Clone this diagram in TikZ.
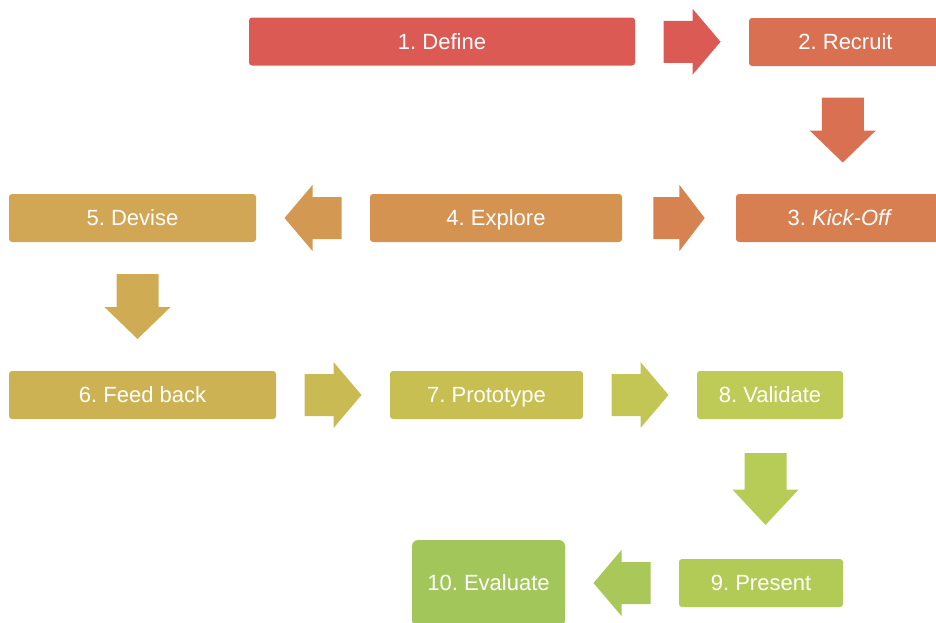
\documentclass[tikz,border=0pt]{standalone}
\usepackage{fontspec}
\setmainfont{Liberation Sans}
\usepackage{tikz}
\usetikzlibrary{calc}
\frenchspacing

\definecolor{cDefine}{HTML}{DC5A54}
\definecolor{cRecruit}{HTML}{D97052}
\definecolor{cKickoff}{HTML}{D77F51}
\definecolor{cExplore}{HTML}{D49351}
\definecolor{cDevise}{HTML}{D1A654}
\definecolor{cFeedback}{HTML}{CDB254}
\definecolor{cPrototype}{HTML}{C8BF53}
\definecolor{cValidate}{HTML}{BECB56}
\definecolor{cPresent}{HTML}{B2CB57}
\definecolor{cEvaluate}{HTML}{A3C65B}

\tikzset{
  step box/.style={rounded corners=3pt, text=white, minimum height=48pt,
    font=\fontsize{22}{26}\selectfont, inner sep=0pt,
    text height=15.8pt, text depth=0pt},
  pics/blockarrow/.style={code={
    \fill[pic actions] (-28.5,-21) -- (0.5,-21) -- (0.5,-33) -- (28.5,0)
      -- (0.5,33) -- (0.5,21) -- (-28.5,21) -- cycle;
  }}
}

\begin{document}
\begin{tikzpicture}[x=1pt, y=-1pt]
\useasboundingbox (0,0) rectangle (936,622);

% Schritte
\node[step box, fill=cDefine, minimum width=386pt] (define) at (442,41.5) {1. Define};
\node[step box, fill=cRecruit, minimum width=193pt] (recruit) at (845.5,42) {2. Recruit};
\node[step box, fill=cKickoff, minimum width=208pt] (kickoff) at (840,218) {3. \textit{Kick-Off}};
\node[step box, fill=cExplore, minimum width=252pt] (explore) at (496,218) {4. Explore};
\node[step box, fill=cDevise, minimum width=247pt] (devise) at (132.5,218) {5. Devise};
\node[step box, fill=cFeedback, minimum width=267pt] (feedback) at (142.5,395) {6. Feed back};
\node[step box, fill=cPrototype, minimum width=193pt] (prototype) at (486.5,395) {7. Prototype};
\node[step box, fill=cValidate, minimum width=146pt] (validate) at (770,395) {8. Validate};
\node[step box, fill=cPresent, minimum width=164pt] (present) at (761,583) {9. Present};
\node[step box, fill=cEvaluate, minimum width=153pt, minimum height=86pt,
  rounded corners=6pt] (evaluate) at (488.5,583) {10. Evaluate};

% Pfeile zwischen den Schritten
\pic[fill=cDefine!98!cRecruit] at ($(define.east)!0.5!(recruit.west)$) {blockarrow};
\pic[fill=cRecruit, rotate=-90, xscale=1.14] at ($(recruit.south)!0.5!(kickoff.north)$) {blockarrow};
\pic[fill=cKickoff!80!cExplore, xscale=0.9] at ($(explore.east)!0.5!(kickoff.west)$) {blockarrow};
\pic[fill=cExplore!70!cDevise, rotate=180] at ($(explore.west)!0.5!(devise.east)$) {blockarrow};
\pic[fill=cDevise!50!cFeedback, rotate=-90, xscale=1.14] at ($(devise.south)!0.5!(feedback.north)$) {blockarrow};
\pic[fill=cFeedback!40!cPrototype] at ($(feedback.east)!0.5!(prototype.west)$) {blockarrow};
\pic[fill=cPrototype!50!cValidate] at ($(prototype.east)!0.5!(validate.west)$) {blockarrow};
\pic[fill=cValidate!40!cPresent, rotate=-90, xscale=1.26] at ($(validate.south)!0.5!(present.north)$) {blockarrow};
\pic[fill=cPresent!40!cEvaluate, rotate=180] at ($(present.west)!0.5!(evaluate.east)$) {blockarrow};
\end{tikzpicture}
\end{document}
